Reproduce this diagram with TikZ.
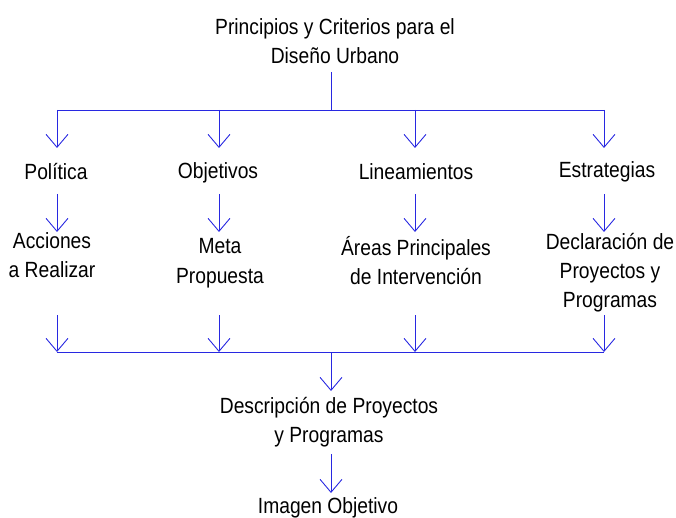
\documentclass[tikz,border=0pt]{standalone}
\usepackage{fontspec}
\setmainfont{Liberation Sans}[FakeStretch=0.875]
\usetikzlibrary{arrows.meta}
\definecolor{lineblue}{RGB}{40,40,225}
\begin{document}
\begin{tikzpicture}[x=1pt,y=-1pt,
  bus/.style={draw=lineblue,line width=0.9pt},
  arr/.style={draw=lineblue,line width=0.9pt,-{Straight Barb[length=13pt,width=22pt,line width=0.9pt]}},
  lbl/.style={inner sep=0pt,align=center,font=\fontsize{22}{29}\selectfont,anchor=base}]
\useasboundingbox (0,0) rectangle (676,518);

% base anchor = baseline of the last line
\node[lbl] (tit) at (335,64) {Principios y Criterios para el\\Diseño Urbano};
\node[lbl] (pol) at (56,180) {Política};
\node[lbl] (obj) at (218,179) {Objetivos};
\node[lbl] (lin) at (416,180) {Lineamientos};
\node[lbl] (est) at (607,178) {Estrategias};
\node[lbl] (acc) at (52,277) {Acciones\\a Realizar};
\node[lbl] (met) at (220,283) {Meta\\Propuesta};
\node[lbl] (are) at (416,284) {Áreas Principales\\de Intervención};
\node[lbl] (dec) at (610,307) {Declaración de\\Proyectos y\\Programas};
\node[lbl] (des) at (329,442) {Descripción de Proyectos\\y Programas};
\node[lbl] (ima) at (328,513) {Imagen Objetivo};

\coordinate (tm) at (331,110);
\coordinate (tb1) at (57,110);
\coordinate (tb2) at (219,110);
\coordinate (tb3) at (415,110);
\coordinate (tb4) at (604,110);
\coordinate (bm) at (331,352);
\coordinate (bb1) at (57,352);
\coordinate (bb2) at (219,352);
\coordinate (bb3) at (415,352);
\coordinate (bb4) at (604,352);

% title to top bus
\draw[bus] (tm |- tit.base) ++(0,8) -- (tm);
\draw[bus] (tb1) -- (tb4);
\foreach \c in {tb1,tb2,tb3,tb4} \draw[arr] (\c) -- ++(0,38);

% row 1 to row 2
\draw[arr] (tb1 |- pol.base) ++(0,14) -- ++(0,38);
\draw[arr] (tb2 |- pol.base) ++(0,14) -- ++(0,38);
\draw[arr] (tb3 |- pol.base) ++(0,14) -- ++(0,38);
\draw[arr] (tb4 |- pol.base) ++(0,14) -- ++(0,38);

% row 2 to bottom bus
\foreach \c in {bb1,bb2,bb3,bb4} \draw[arr] (\c) ++(0,-37) -- (\c);
\draw[bus] (bb1) -- (bb4);
\draw[arr] (bm) -- ++(0,39);

% description to image
\draw[arr] (bm |- des.base) ++(0,12) -- ++(0,39);
\end{tikzpicture}
\end{document}
